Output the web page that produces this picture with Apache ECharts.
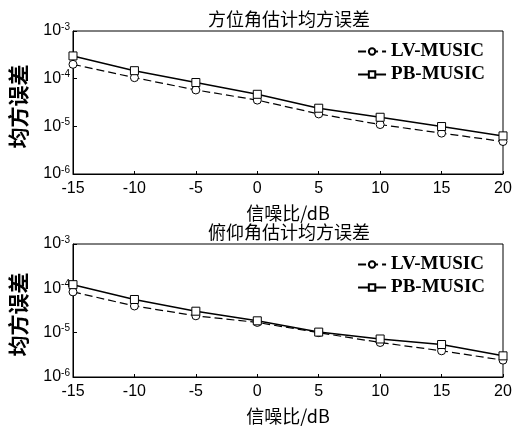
<!DOCTYPE html>
<html><head><meta charset="utf-8">
<script src="https://cdn.jsdelivr.net/npm/echarts@6/dist/echarts.min.js"></script>
<style>html,body{margin:0;padding:0;background:#fff}#c{width:516px;height:426px}</style>
</head><body><div id="c"></div>
<script>
var snr = [-15, -10, -5, 0, 5, 10, 15, 20];
var azLV = [2.0e-4, 1.05e-4, 5.8e-5, 3.55e-5, 1.82e-5, 1.09e-5, 7.2e-6, 4.8e-6];
var azPB = [3.0e-4, 1.47e-4, 8.3e-5, 4.7e-5, 2.4e-5, 1.55e-5, 9.9e-6, 6.3e-6];
var elLV = [8.3e-5, 4.0e-5, 2.4e-5, 1.7e-5, 1.0e-5, 6.0e-6, 3.9e-6, 2.4e-6];
var elPB = [1.21e-4, 5.6e-5, 3.05e-5, 1.85e-5, 1.03e-5, 7.2e-6, 5.4e-6, 3.0e-6];
var titles = ['方位角估计均方误差', '俯仰角估计均方误差'];
var seriesNames = ['LV-MUSIC', 'PB-MUSIC'];
var xName = '信噪比/dB';
var yName = '均方误差';

function pairs(y){ return snr.map(function(x,i){ return [x, y[i]]; }); }
var cjk = '"Noto Sans CJK SC", sans-serif';
var tops = [31, 244];
var grids = [], xAxes = [], yAxes = [], series = [], legends = [], titleArr = [];
[[azLV, azPB],[elLV, elPB]].forEach(function(d, k){
  grids.push({left: 66, right: 13, top: tops[k], height: 143, show: true, borderColor: '#000', borderWidth: 1});
  xAxes.push({type: 'value', gridIndex: k, min: -15, max: 20, interval: 5,
    name: xName, nameLocation: 'middle', nameGap: 30,
    nameTextStyle: {fontFamily: cjk, fontSize: 18, color: '#000'},
    axisLine: {onZero: false, lineStyle: {color: '#000', width: 1}},
    axisTick: {inside: true, length: 3, lineStyle: {color: '#000'}},
    axisLabel: {fontFamily: 'Liberation Sans', fontSize: 16, color: '#000', margin: 7},
    splitLine: {show: false}});
  yAxes.push({type: 'log', logBase: 10, gridIndex: k, min: 1e-6, max: 1e-3,
    name: yName, nameLocation: 'middle', nameGap: 44, nameRotate: 90,
    nameTextStyle: {fontFamily: cjk, fontSize: 21, fontWeight: 'bold', color: '#000', padding: [0,0,0,-8]},
    axisLine: {show: true, onZero: false, lineStyle: {color: '#000', width: 1}},
    axisTick: {show: true, inside: true, length: 4, lineStyle: {color: '#000'}},
    minorTick: {show: false},
    splitLine: {show: false},
    axisLabel: {margin: 3, color: '#000',
      formatter: function(v){ var e = Math.round(Math.log10(v)); return '{b|10}{s|' + e + '}'; },
      rich: {b: {fontFamily: 'Liberation Sans', fontSize: 16, color: '#000'},
             s: {fontFamily: 'Liberation Sans', fontSize: 10, color: '#000', verticalAlign: 'top', padding: [0,0,8,0]}}}});
  titleArr.push({text: titles[k], left: 284, top: tops[k] - 26, textAlign: 'center',
    textStyle: {fontFamily: cjk, fontSize: 18, fontWeight: 'normal', color: '#000'}});
  legends.push({orient: 'vertical', right: 26, top: tops[k] + 6, itemGap: 4, itemWidth: 28, itemHeight: 8,
    data: seriesNames, selectedMode: false,
    textStyle: {fontFamily: 'Liberation Serif', fontWeight: 'bold', fontSize: 19, color: '#000'}});
  series.push({name: seriesNames[0], type: 'line', xAxisIndex: k, yAxisIndex: k, data: pairs(d[0]),
    symbol: 'circle', symbolSize: 8, showAllSymbol: true,
    itemStyle: {color: '#fff', borderColor: '#000', borderWidth: 1},
    lineStyle: {color: '#000', width: 1.2, type: [8, 4]}});
  series.push({name: seriesNames[1], type: 'line', xAxisIndex: k, yAxisIndex: k, data: pairs(d[1]),
    symbol: 'rect', symbolSize: 8, showAllSymbol: true,
    itemStyle: {color: '#fff', borderColor: '#000', borderWidth: 1},
    lineStyle: {color: '#000', width: 1.5, type: 'solid'}});
});
var chart = echarts.init(document.getElementById('c'), null, {renderer: 'canvas'});
chart.setOption({animation: false, backgroundColor: '#fff', title: titleArr, grid: grids,
  xAxis: xAxes, yAxis: yAxes, legend: legends, series: series});
</script></body></html>
